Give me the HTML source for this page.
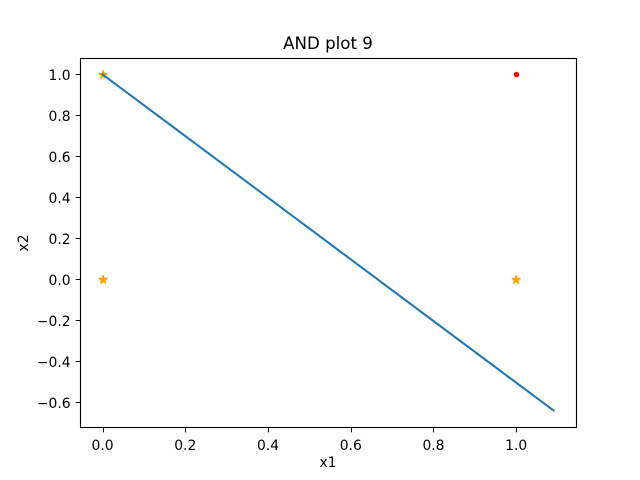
<!DOCTYPE html>
<html>
<head>
<meta charset="utf-8">
<title>AND plot 9</title>
<style>
html,body{margin:0;padding:0;background:#fff;}
svg{display:block;}
text{font-family:"DejaVu Sans",sans-serif;fill:#000;}
</style>
</head>
<body>
<svg id="chart" xmlns="http://www.w3.org/2000/svg" width="640" height="480" viewBox="0 0 640 480">
<rect x="0" y="0" width="640" height="480" fill="#ffffff"/>
<text x="328" y="49" font-size="16.67" text-anchor="middle">AND plot 9</text>
<text x="328" y="467" font-size="13.89" text-anchor="middle">x1</text>
<text transform="translate(28,243) rotate(-90)" font-size="13.89" text-anchor="middle">x2</text>
<g id="plot"></g>
</svg>
<script>
var xTicks = [0, 0.2, 0.4, 0.6, 0.8, 1];
var xTickLabels = ['0.0', '0.2', '0.4', '0.6', '0.8', '1.0'];
var yTicks = [-0.6, -0.4, -0.2, 0, 0.2, 0.4, 0.6, 0.8, 1];
var yTickLabels = ['\u22120.6', '\u22120.4', '\u22120.2', '0.0', '0.2', '0.4', '0.6', '0.8', '1.0'];
var lineX = [0, 1.09];
var lineY = [1, -0.64];
var starX = [0, 0, 1];
var starY = [0, 1, 0];
var dotX = [1];
var dotY = [1];

var NS = 'http://www.w3.org/2000/svg';
var plot = document.getElementById('plot');
var left = 80, right = 576, top_ = 57.6, bottom = 427.2;

var allX = lineX.concat(starX, dotX);
var allY = lineY.concat(starY, dotY);
var xMin = Math.min.apply(null, allX), xMax = Math.max.apply(null, allX);
var yMin = Math.min.apply(null, allY), yMax = Math.max.apply(null, allY);
var xPad = (xMax - xMin) * 0.05, yPad = (yMax - yMin) * 0.05;

function sx(v) { return left + (v - (xMin - xPad)) / (xMax - xMin + 2 * xPad) * (right - left); }
function sy(v) { return bottom - (v - (yMin - yPad)) / (yMax - yMin + 2 * yPad) * (bottom - top_); }
function snap(p) { return Math.floor(p + 0.5) + 0.5; }

function make(tag, attrs) {
  var el = document.createElementNS(NS, tag);
  for (var k in attrs) el.setAttribute(k, attrs[k]);
  plot.appendChild(el);
  return el;
}

function starPoints(cx, cy, R) {
  var pts = [], r = R * 0.381966;
  for (var i = 0; i < 10; i++) {
    var a = -Math.PI / 2 + i * Math.PI / 5;
    var q = i % 2 ? r : R;
    pts.push((cx + q * Math.cos(a)).toFixed(2) + ',' + (cy + q * Math.sin(a)).toFixed(2));
  }
  return pts.join(' ');
}

starX.forEach(function (v, i) {
  var s = make('polygon', { points: starPoints(snap(v === 0 ? sx(v) : sx(v)) - 0.3, snap(sy(starY[i])) + 0.3, 4.17), fill: '#ffa500', stroke: '#ffa500', 'stroke-width': 1.39, 'stroke-linejoin': 'round' });
  
  
});

dotX.forEach(function (v, i) {
  var d = make('circle', { cx: snap(sx(v)), cy: snap(sy(dotY[i])), r: 2.78, fill: '#ff0000' });
  
  
});

var linePts = lineX.map(function (v, i) { return sx(v) + ',' + sy(lineY[i]); }).join(' ');
var ln = make('polyline', { points: linePts, fill: 'none', stroke: '#1f77b4', 'stroke-width': 2.08, 'stroke-linecap': 'square' });



var fl = snap(left), fr = snap(right), ft = snap(top_), fb = snap(bottom);
var frame = make('rect', { x: fl, y: ft, width: fr - fl, height: fb - ft, fill: 'none', stroke: '#000', 'stroke-width': 1.11 });



xTicks.forEach(function (v, i) {
  var x = snap(sx(v));
  var t = make('line', { x1: x, x2: x, y1: fb, y2: fb + 4.86, stroke: '#000', 'stroke-width': 1 });
  
  
  var l = make('text', { x: sx(v), y: 450, 'font-size': 13.89, 'text-anchor': 'middle' });
  l.textContent = xTickLabels[i];
  
  
});

yTicks.forEach(function (v, i) {
  var y = snap(sy(v));
  var t = make('line', { x1: fl - 4.86, x2: fl, y1: y, y2: y, stroke: '#000', 'stroke-width': 1 });
  
  
  var l = make('text', { x: 70.6, y: Math.round(y + 5.5), 'font-size': 13.89, 'text-anchor': 'end' });
  l.textContent = yTickLabels[i];
  
  
});
</script>
</body>
</html>
